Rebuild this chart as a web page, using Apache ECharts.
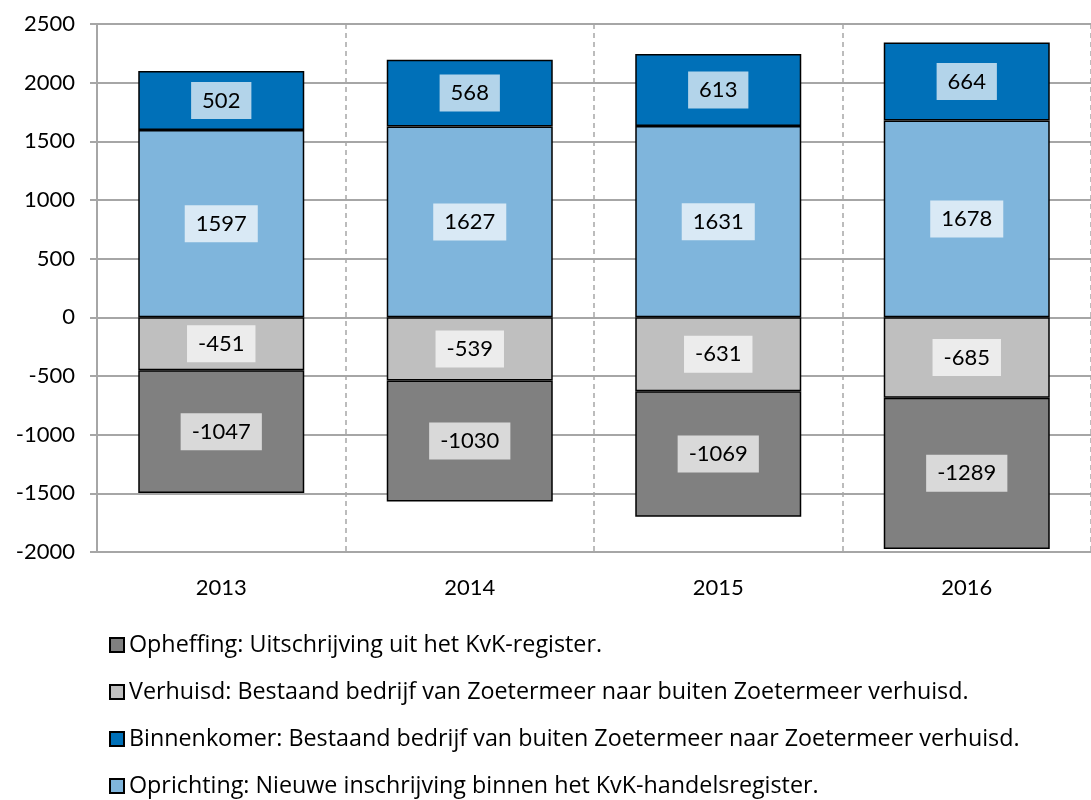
<!DOCTYPE html>
<html>
<head>
<meta charset="utf-8">
<script src="https://cdn.jsdelivr.net/npm/echarts@6/dist/echarts.min.js"></script>
<style>
html,body{margin:0;padding:0;background:#fff;}
#chart{width:1091px;height:800px;}
</style>
</head>
<body>
<div id="chart"></div>
<script>
const categories = ['2013', '2014', '2015', '2016'];
const opheffing = [-1047, -1030, -1069, -1289];
const verhuisd = [-451, -539, -631, -685];
const binnenkomer = [502, 568, 613, 664];
const oprichting = [1597, 1627, 1631, 1678];
const names = [
  'Opheffing: Uitschrijving uit het KvK-register.',
  'Verhuisd: Bestaand bedrijf van Zoetermeer naar buiten Zoetermeer verhuisd.',
  'Binnenkomer: Bestaand bedrijf van buiten Zoetermeer naar Zoetermeer verhuisd.',
  'Oprichting: Nieuwe inschrijving binnen het KvK-handelsregister.'
];
const FONT = 'Lato, Carlito, "Open Sans", sans-serif';
const LFONT = '"Open Sans", Lato, sans-serif';

function mk(name, data, color) {
  return {
    name: name, type: 'bar', stack: 'total', data: data, barWidth: 166,
    itemStyle: { color: color, borderColor: '#000', borderWidth: 1.5 },
    label: {
      show: true, position: 'inside', color: '#000', fontFamily: FONT, fontSize: 22,
      backgroundColor: 'rgba(255,255,255,0.7)', padding: [8, 11, 7, 11]
    }
  };
}

const chart = echarts.init(document.getElementById('chart'));
chart.setOption({
  animation: false,
  textStyle: { fontFamily: FONT },
  grid: { left: 97, top: 24, width: 1000, height: 528 },
  legend: {
    orient: 'vertical', left: 104, top: 627, height: 180,
    data: names, icon: 'rect', itemWidth: 14, itemHeight: 14, itemGap: 21, padding: [5, 5, 5, 5],
    textStyle: { fontFamily: LFONT, fontSize: 23.3, color: '#000', lineHeight: 26 }
  },
  xAxis: {
    type: 'category', data: categories,
    axisLine: { onZero: false, lineStyle: { color: '#A6A6A6', width: 2 } },
    axisTick: { show: false },
    axisLabel: { color: '#000', fontSize: 22, fontFamily: FONT, margin: 25 },
    splitLine: { show: true, lineStyle: { color: '#A6A6A6', type: [5, 4], width: 1.5 } }
  },
  yAxis: {
    type: 'value', min: -2000, max: 2500, interval: 500,
    axisLine: { show: true, lineStyle: { color: '#A6A6A6', width: 2 } },
    axisTick: { show: true, length: 7, lineStyle: { color: '#A6A6A6', width: 2 } },
    axisLabel: { color: '#000', fontSize: 22, fontFamily: FONT, margin: 22, formatter: function (v) { return String(v); } },
    splitLine: { lineStyle: { color: '#A6A6A6', width: 2 } }
  },
  series: [
    mk(names[3], oprichting, '#7FB5DC'),
    mk(names[2], binnenkomer, '#0070B8'),
    mk(names[1], verhuisd, '#BFBFBF'),
    mk(names[0], opheffing, '#808080')
  ]
});
</script>
</body>
</html>
